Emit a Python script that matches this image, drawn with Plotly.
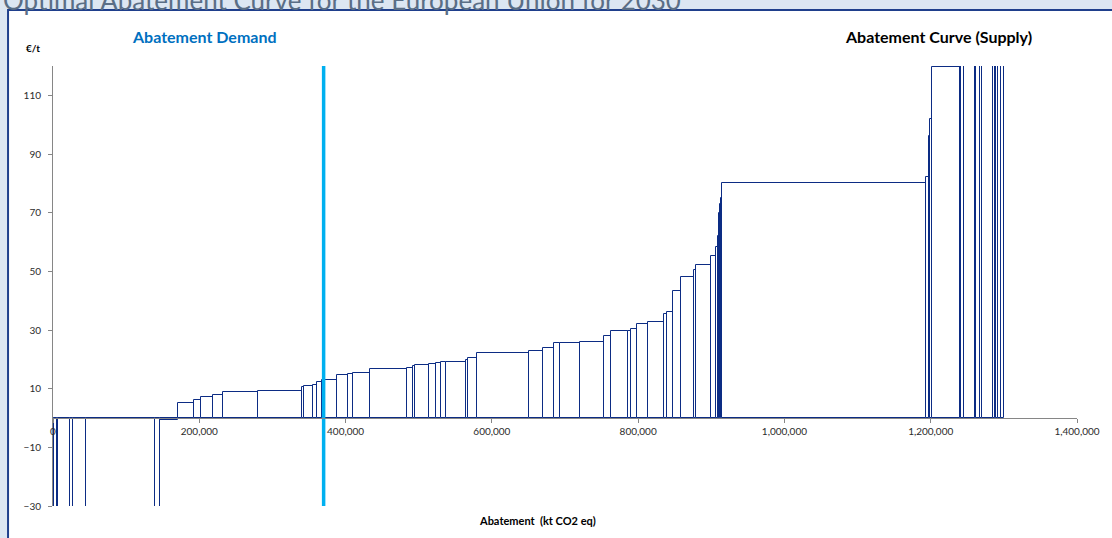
import numpy as np
import plotly.graph_objects as go

# Abatement measures in merit order: marginal cost (EUR/t) and abatement volume (kt CO2 eq)
cost_eur_t = [
    -150, -120, -100, -80, -70, -60, -45, -40, -0.7,
    5.2, 6.2, 7.3, 7.7, 8.8, 9.3, 10.7, 10.9, 11.3, 12.4,
    13.0, 14.7, 15.0, 15.3, 16.8, 17.1, 17.8, 18.1, 18.3, 18.7,
    19.0, 19.1, 19.9, 20.3, 22.2, 22.9, 23.7, 25.4, 25.6, 26.0,
    28.1, 29.5, 29.8, 30.2, 32.2, 32.6, 35.5, 36.0, 43.2, 48.2,
    50.5, 52.1, 55.2, 58.2, 62, 66, 70, 73, 75, 80.0,
    82.1, 96.3, 102, 119.8,
    250, 300, 400, 350, 500, 400, 600, 400, 450, 500, 700, 800,
]
abatement_kt = [
    1900, 3000, 2200, 16400, 3700, 18100, 93700, 7200, 24600,
    21800, 9100, 17300, 13100, 48300, 60000, 2200, 12300, 6400, 6800,
    20500, 14100, 6800, 23700, 51300, 7800, 2700, 19100, 10000, 6800,
    6800, 26500, 3500, 11500, 71400, 19500, 14600, 9100, 27300, 32700,
    9000, 23200, 4600, 7600, 14600, 23200, 4100, 8200, 10500, 17700,
    2200, 21000, 6300, 2700, 1400, 1000, 1000, 800, 1400, 279700,
    3700, 1400, 3100, 37400,
    2200, 3700, 14600, 2200, 4600, 3100, 15000, 2300, 2200, 2300, 4500, 3700,
]

# Abatement demand target (kt CO2 eq)
demand_kt = 370000

x_ticks = [0, 200000, 400000, 600000, 800000, 1000000, 1200000, 1400000]
y_ticks = [-30, -10, 10, 30, 50, 70, 90, 110]

widths = np.array(abatement_kt, dtype=float)
starts = np.concatenate([[0.0], np.cumsum(widths)[:-1]])
centers = starts + widths / 2

NAVY = "#0c2c84"
FONT = "Lato"

fig = go.Figure()
fig.add_trace(go.Bar(
    x=centers, y=cost_eur_t, width=widths,
    marker=dict(color="white", line=dict(color=NAVY, width=1)),
    hoverinfo="skip", showlegend=False,
))
fig.add_trace(go.Scatter(
    x=[demand_kt, demand_kt], y=[-30, 120], mode="lines",
    line=dict(color="#00b0f0", width=3.5),
    hoverinfo="skip", showlegend=False,
))

# Panel frame on the light-blue page
fig.add_shape(type="rect", xref="paper", yref="paper",
              x0=-0.0439, x1=1.05, y0=-0.1, y1=1.1273,
              line=dict(color="#1f3f8c", width=2), fillcolor="white", layer="below")

fig.update_layout(
    width=1112, height=538,
    margin=dict(l=53, r=33, t=66, b=32),
    paper_bgcolor="#dce6f2", plot_bgcolor="white",
    bargap=0, barmode="overlay",
    font=dict(family=FONT, color="#2b2b2b", size=10),
    annotations=[
        dict(text="Optimal Abatement Curve for the European Union for 2030",
             xref="paper", yref="paper", x=-0.0505, y=1.150, xanchor="left", yanchor="middle",
             showarrow=False, font=dict(family=FONT, size=26, color="#5a6e86")),
        dict(text="<b>€/t</b>", xref="paper", yref="paper", x=-0.0195, y=1.041,
             xanchor="center", yanchor="middle",
             showarrow=False, font=dict(family=FONT, size=10, color="#000000")),
        dict(text="<b>Abatement Demand</b>", xref="paper", yref="paper", x=0.148, y=1.066,
             xanchor="center", yanchor="middle",
             showarrow=False, font=dict(family=FONT, size=16, color="#0070c0")),
        dict(text="<b>Abatement Curve (Supply)</b>", xref="paper", yref="paper", x=0.8645, y=1.066,
             xanchor="center", yanchor="middle",
             showarrow=False, font=dict(family=FONT, size=16, color="#000000")),
        dict(text="<b>Abatement \u00a0(kt CO2 eq)</b>", xref="paper", yref="paper", x=0.4727, y=-0.034,
             xanchor="center", yanchor="middle",
             showarrow=False, font=dict(family=FONT, size=11, color="#000000")),
    ],
)

fig.update_xaxes(
    range=[0, 1400000], tickvals=x_ticks, tickformat=",d",
    anchor="free", position=0.2,
    showline=True, linecolor="#868686", linewidth=1,
    ticks="outside", ticklen=4, tickcolor="#868686",
    showgrid=False, zeroline=False,
)
fig.update_yaxes(
    range=[-30, 120], tickvals=y_ticks,
    showline=True, linecolor="#868686", linewidth=1,
    ticks="outside", ticklen=4, tickcolor="#868686",
    ticklabelstandoff=5,
    showgrid=False, zeroline=False,
)

fig.write_html("out.html")
